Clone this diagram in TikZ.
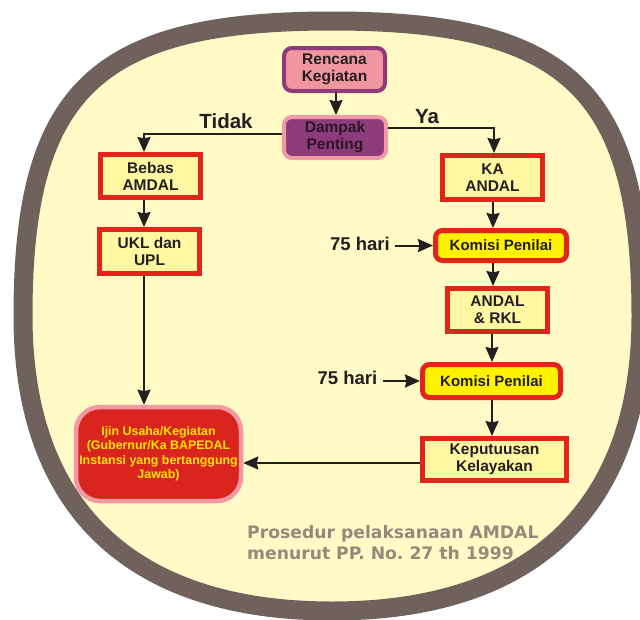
\documentclass[tikz,border=0pt]{standalone}
\usepackage{fontspec}
\setmainfont{Liberation Sans}[BoldFont={Liberation Sans Bold}]
\newfontfamily\titlefont{DejaVu Sans}[BoldFont={DejaVu Sans Bold}]
\usetikzlibrary{arrows.meta}
\frenchspacing
\definecolor{bgy}{HTML}{FFFAC6}
\definecolor{rim}{HTML}{6F615C}
\definecolor{ink}{HTML}{231F20}
\definecolor{redb}{HTML}{E2241B}
\definecolor{boxy}{HTML}{FFF7A2}
\definecolor{kyellow}{HTML}{FFF200}
\definecolor{pinkf}{HTML}{F0969E}
\definecolor{purp}{HTML}{8E3B7C}
\definecolor{halo}{HTML}{F29AA4}
\definecolor{ijinred}{HTML}{D9251D}
\definecolor{ijintxt}{HTML}{FFE500}
\definecolor{damptxt}{HTML}{2A1627}
\definecolor{titlec}{HTML}{9A877B}
\tikzset{
  boxfont/.style={font=\fontsize{15.5}{17}\selectfont\bfseries},
  redbox/.style={draw=redb, line width=5pt, fill=boxy, align=center, text=ink, inner sep=0pt,
    minimum width=100pt, minimum height=44pt, boxfont},
  komisi/.style={redbox, fill=kyellow, rounded corners=7pt, font=\fontsize{15}{17}\selectfont\bfseries},
  pinkbox/.style={draw=purp, line width=4pt, fill=pinkf, rounded corners=8pt, align=center, text=ink,
    inner sep=0pt, minimum width=101pt, minimum height=43pt, boxfont},
  dampak/.style={draw=halo, line width=4pt, fill=purp, rounded corners=8pt, align=center, text=damptxt,
    inner sep=0pt, minimum width=102pt, minimum height=41pt, boxfont},
  ijinbox/.style={draw=halo, line width=4.5pt, fill=ijinred, rounded corners=24pt, align=center,
    text=ijintxt, inner sep=0pt, minimum width=165pt, minimum height=94pt,
    font=\fontsize{12.4}{14.5}\selectfont\bfseries},
  lbl/.style={text=ink, inner sep=0pt, font=\fontsize{20.5}{22}\selectfont\bfseries},
  hari/.style={text=ink, inner sep=0pt, font=\fontsize{18.5}{20}\selectfont\bfseries},
  titletext/.style={text=titlec, inner sep=0pt, align=left, font=\titlefont\fontsize{17.2}{21}\selectfont\bfseries},
  arr/.style={draw=ink, line width=2pt, -{Stealth[length=15pt,width=13pt,inset=1.5pt]}},
  conn/.style={draw=ink, line width=2pt}
}
\begin{document}
\begin{tikzpicture}[x=1pt,y=-1pt]
\useasboundingbox (0,0) rectangle (640,619);
\clip (0,0) rectangle (640,619);
\fill[white] (0,0) rectangle (640,619);
\draw[line width=19pt, draw=rim, fill=bgy]
  (641,316) .. controls (641,90) and (568,21) .. (332,21)
  .. controls (96,21) and (23,90) .. (23,316)
  .. controls (23,508) and (131,611) .. (332,611)
  .. controls (533,611) and (641,508) .. (641,316) -- cycle;

% nodes
\node[pinkbox] (ren) at (334.5,69.5) {Rencana\\Kegiatan};
\node[dampak] (dam) at (335,137.5) {Dampak\\Penting};
\node[redbox, minimum height=43pt] (beb) at (150.5,176) {Bebas\\AMDAL};
\node[redbox] (ukl) at (149.5,251.5) {UKL dan\\UPL};
\node[redbox] (ka) at (492.5,177.5) {KA\\ANDAL};
\node[komisi, minimum width=131pt, minimum height=30pt] (kp1) at (501,245.5) {Komisi Penilai};
\node[redbox, minimum height=43pt] (andal) at (497.5,310) {ANDAL\\\& RKL};
\node[komisi, minimum width=138pt, minimum height=33pt] (kp2) at (491.5,381) {Komisi Penilai};
\node[redbox, minimum width=144pt, minimum height=42pt] (kep) at (494.5,459.5) {Keputuusan\\Kelayakan};
\node[ijinbox] (ijin) at (158.5,454) {Ijin Usaha/Kegiatan\\(Gubernur/Ka BAPEDAL\\Instansi yang bertanggung\\Jawab)};

\node[lbl] (tidak) at (226,121) {Tidak};
\node[lbl] (ya) at (427,117) {Ya};
\node[hari] (h1) at (360,244) {75 hari};
\node[hari] (h2) at (347.5,378) {75 hari};

\node[titletext, anchor=west] (title) at (247,542.5) {Prosedur pelaksanaan AMDAL\\menurut PP. No. 27 th 1999};

% connectors
\draw[arr] ([xshift=1.5pt]ren.south) -- ([xshift=1pt]dam.north);
\draw[arr] ([yshift=3.5pt]dam.west) -| ([xshift=-6.5pt]beb.north);
\draw[arr] ([yshift=9.5pt]dam.east) -| ([xshift=1.5pt]ka.north);
\draw[arr] ([xshift=-6.5pt]beb.south) -- ([xshift=-5.5pt]ukl.north);
\draw[arr] ([xshift=-5.5pt]ukl.south) coordinate (u1) -- (u1 |- ijin.north);
\draw[arr] ([xshift=0.5pt]ka.south) coordinate (k1) -- (k1 |- kp1.north);
\draw[arr] (kp1.west -| h1.east) ++(5pt,0) -- (kp1.west);
\draw[arr] ([xshift=-8pt]kp1.south) coordinate (k2) -- (k2 |- andal.north);
\draw[arr] (kp2.west -| h2.east) ++(5pt,0) -- (kp2.west);
\draw[arr] ([xshift=-5.5pt]andal.south) coordinate (k3) -- (k3 |- kp2.north);
\draw[arr] ([xshift=0.5pt]kp2.south) coordinate (k4) -- (k4 |- kep.north);
\draw[arr] ([yshift=-3.5pt]kep.west) coordinate (k5) -- (k5 -| ijin.east);
\end{tikzpicture}
\end{document}
